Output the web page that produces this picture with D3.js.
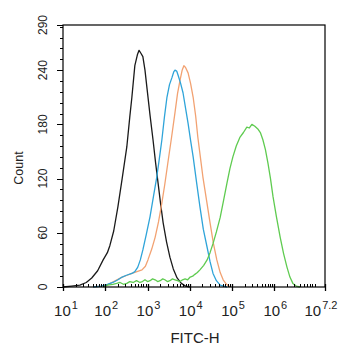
<!DOCTYPE html>
<html>
<head>
<meta charset="utf-8">
<script src="https://cdn.jsdelivr.net/npm/d3@7"></script>
<style>
  body { margin: 0; background: #fff; }
  svg { display: block; font-family: "Liberation Sans", Arial, sans-serif; }
</style>
</head>
<body>
<svg id="chart" width="342" height="350"></svg>
<script>
// x positions are log10(FITC-H), y values are counts
let blackExp = [1.00, 1.20, 1.40, 1.55, 1.68, 1.82, 1.95, 2.05, 2.11, 2.20, 2.30, 2.40, 2.51, 2.58, 2.63, 2.70, 2.76, 2.80, 2.84, 2.89, 2.94, 2.99, 3.06, 3.13, 3.19, 3.25, 3.31, 3.37, 3.45, 3.53, 3.61, 3.70, 3.80, 3.90, 4.00];
let blackCnt = [0, 1, 2, 5, 10, 18, 30, 38, 46, 62, 89, 120, 155, 188, 210, 245, 257, 262, 259, 255, 240, 219, 190, 163, 138, 115, 92, 71, 50, 33, 20, 10, 4, 1, 0];

let blueExp = [1.71, 1.90, 2.05, 2.18, 2.30, 2.40, 2.50, 2.63, 2.70, 2.77, 2.83, 2.89, 2.97, 3.06, 3.14, 3.22, 3.28, 3.34, 3.40, 3.46, 3.52, 3.58, 3.62, 3.65, 3.69, 3.72, 3.78, 3.84, 3.90, 3.96, 4.02, 4.08, 4.16, 4.24, 4.32, 4.41, 4.48, 4.55, 4.63, 4.72, 4.80, 4.88];
let blueCnt = [0, 1, 3, 5, 8, 11, 13, 15, 17, 22, 30, 41, 58, 78, 100, 122, 142, 163, 188, 210, 224, 232, 238, 240, 239, 235, 226, 215, 198, 181, 162, 144, 116, 89, 64, 44, 28, 15, 7, 2, 1, 0];

let orangeExp = [1.71, 1.90, 2.04, 2.20, 2.40, 2.52, 2.63, 2.75, 2.87, 2.95, 3.01, 3.10, 3.18, 3.26, 3.34, 3.41, 3.48, 3.57, 3.65, 3.71, 3.77, 3.82, 3.86, 3.90, 3.96, 4.02, 4.08, 4.14, 4.19, 4.25, 4.31, 4.40, 4.48, 4.56, 4.64, 4.72, 4.79, 4.87, 4.95];
let orangeCnt = [0, 1, 2, 6, 11, 13, 15, 17, 19, 23, 30, 42, 55, 72, 93, 114, 137, 166, 193, 214, 229, 240, 245, 243, 237, 225, 210, 189, 166, 144, 122, 95, 71, 48, 30, 16, 8, 3, 0];

let greenExp = [1.95, 2.05, 2.18, 2.27, 2.35, 2.43, 2.51, 2.58, 2.66, 2.74, 2.82, 2.88, 2.94, 3.00, 3.06, 3.12, 3.18, 3.24, 3.30, 3.36, 3.41, 3.47, 3.53, 3.59, 3.65, 3.71, 3.77, 3.83, 3.89, 3.95, 4.01, 4.07, 4.12, 4.18, 4.24, 4.33, 4.41, 4.48, 4.55, 4.63, 4.72, 4.80, 4.88, 4.95, 5.02, 5.10, 5.19, 5.27, 5.35, 5.41, 5.47, 5.54, 5.61, 5.67, 5.73, 5.79, 5.85, 5.91, 5.97, 6.05, 6.14, 6.22, 6.30, 6.37, 6.44, 6.52, 6.61];
let greenCnt = [0, 2, 3, 4, 5, 3, 4, 6, 5, 7, 5, 6, 8, 6, 7, 9, 8, 6, 7, 9, 8, 6, 7, 9, 8, 7, 6, 8, 9, 8, 11, 12, 14, 16, 19, 24, 30, 38, 48, 61, 77, 96, 115, 131, 144, 156, 166, 171, 177, 176, 180, 178, 175, 171, 163, 152, 137, 120, 100, 78, 55, 37, 22, 11, 4, 1, 0];

let series = [
  {exp: blackExp, cnt: blackCnt, color: '#1a1a1a'},
  {exp: orangeExp, cnt: orangeCnt, color: '#f2a272'},
  {exp: blueExp, cnt: blueCnt, color: '#2fa4d9'},
  {exp: greenExp, cnt: greenCnt, color: '#5fcb50'}
];

let yTicks = [0, 60, 120, 180, 240, 290];
let xTickExp = [1, 2, 3, 4, 5, 6, 7.2];

let svg = d3.select('#chart');
let mLeft = 63, mRight = 325, mTop = 25, mBottom = 287;

let x = d3.scaleLog().domain([10, Math.pow(10, 7.2)]).range([mLeft, mRight]);
let y = d3.scaleLinear().domain([0, 290]).range([mBottom, mTop]);

// curves
let line = d3.line()
  .x(d => x(Math.pow(10, d[0])))
  .y(d => y(d[1]));

series.forEach(s => {
  let pts = s.exp.map((e, i) => [e, s.cnt[i]]);
  svg.append('path')
    .attr('d', line(pts))
    .attr('fill', 'none')
    .attr('stroke', s.color)
    .attr('stroke-width', 1.3)
    .attr('stroke-linejoin', 'round');
});

// frame
svg.append('rect')
  .attr('x', mLeft).attr('y', mTop)
  .attr('width', mRight - mLeft).attr('height', mBottom - mTop)
  .attr('fill', 'none')
  .attr('stroke', '#000')
  .attr('stroke-width', 1.2);

// y axis ticks
let yMinor = d3.range(0, 290, 12);
let yg = svg.append('g');
yg.selectAll('line.minor').data(yMinor).enter().append('line')
  .attr('x1', mLeft - 3).attr('x2', mLeft)
  .attr('y1', d => Math.round(y(d)) + 0.5).attr('y2', d => Math.round(y(d)) + 0.5)
  .attr('stroke', '#000');
yg.selectAll('line.major').data(yTicks).enter().append('line')
  .attr('x1', mLeft - 6).attr('x2', mLeft)
  .attr('y1', d => Math.round(y(d)) + 0.5).attr('y2', d => Math.round(y(d)) + 0.5)
  .attr('stroke', '#000');
yg.selectAll('text').data(yTicks).enter().append('text')
  .attr('transform', d => `translate(47,${y(d)}) rotate(-90)`)
  .attr('text-anchor', 'middle')
  .attr('font-size', 12)
  .attr('fill', '#222')
  .text(d => d);

// x axis ticks
let xMinor = [];
for (let d = 1; d < 8; d++) {
  for (let k = 2; k <= 9; k++) {
    let v = k * Math.pow(10, d);
    if (v < Math.pow(10, 7.2)) xMinor.push(v);
  }
}
let xg = svg.append('g');
xg.selectAll('line.minor').data(xMinor).enter().append('line')
  .attr('x1', d => Math.round(x(d)) + 0.5).attr('x2', d => Math.round(x(d)) + 0.5)
  .attr('y1', mBottom - 3).attr('y2', mBottom)
  .attr('stroke', '#000');
xg.selectAll('line.major').data(xTickExp).enter().append('line')
  .attr('x1', d => Math.round(x(Math.pow(10, d))) + 0.5).attr('x2', d => Math.round(x(Math.pow(10, d))) + 0.5)
  .attr('y1', mBottom - 3).attr('y2', mBottom + 4)
  .attr('stroke', '#000')
  .attr('stroke-width', 1.3);
let xl = xg.selectAll('text').data(xTickExp).enter().append('text')
  .attr('x', (d, i) => x(Math.pow(10, d)) + (i === 0 ? 3 : i === xTickExp.length - 1 ? -4 : 1))
  .attr('y', 316)
  .attr('text-anchor', 'middle')
  .attr('font-size', 15)
  .attr('fill', '#222');
xl.append('tspan').text('10');
xl.append('tspan').attr('dx', 1).attr('dy', -7).attr('font-size', 11).text(d => d);

// axis titles
svg.append('text')
  .attr('x', 195).attr('y', 343)
  .attr('text-anchor', 'middle')
  .attr('font-size', 15)
  .attr('fill', '#222')
  .text('FITC-H');
svg.append('text')
  .attr('transform', 'translate(23,168) rotate(-90)')
  .attr('text-anchor', 'middle')
  .attr('font-size', 12.5)
  .attr('fill', '#222')
  .text('Count');
</script>
</body>
</html>
